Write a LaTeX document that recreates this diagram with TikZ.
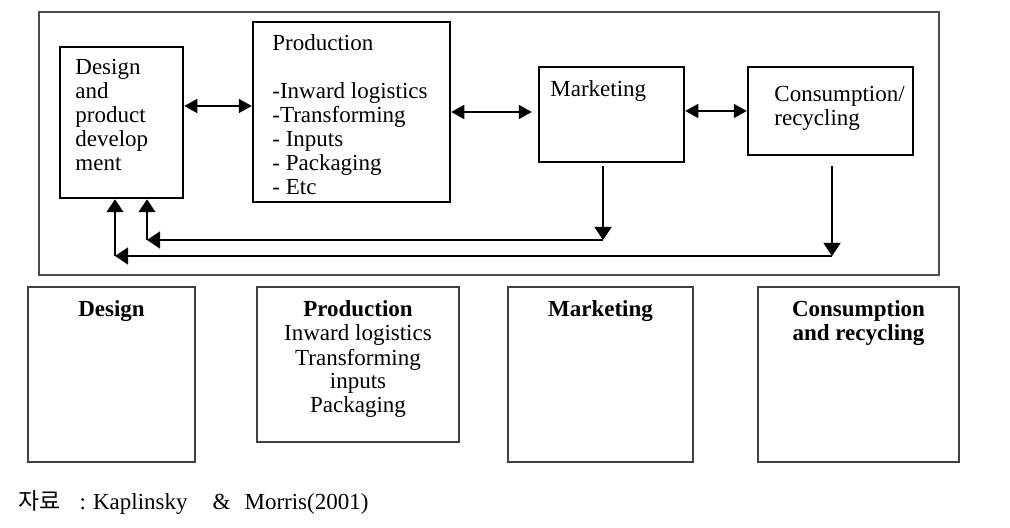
\documentclass[tikz,border=0pt]{standalone}
\usepackage{fontspec}
\setmainfont{Liberation Serif}
\newfontfamily\cjk{Noto Sans CJK KR}
\usetikzlibrary{arrows.meta}

\tikzstyle{box} = [draw,line width=1.25pt,inner sep=0pt]
\tikzstyle{frame} = [draw=black!70,line width=0.75pt,inner sep=0pt]
\tikzstyle{stage} = [draw=black!75,line width=0.75pt,inner sep=0pt,minimum height=87.5pt]
\tikzstyle{txt} = [inner sep=0pt,align=left,anchor=base west]
\tikzstyle{head} = [inner sep=0pt,align=center,anchor=base]
\tikzstyle{line} = [draw,line width=0.75pt,-{Triangle[length=6.5pt,width=8.5pt]}]
\tikzstyle{dline} = [draw,line width=0.75pt,{Triangle[length=6.5pt,width=7pt]}-{Triangle[length=6.5pt,width=7pt]}]

\begin{document}
\begin{tikzpicture}[x=0.5pt,y=-0.5pt,font=\fontsize{11.5}{12}\selectfont]
\useasboundingbox (0,0) rectangle (1010,528);
\node[frame,minimum width=450pt,minimum height=131.5pt] (frame) at (489,143.5) {};
% chain inside the frame (text nodes sit on the baseline of their last line)
\node[box,minimum width=61.5pt,minimum height=75.5pt] (design) at (121.5,122.5) {};
\node[box,minimum width=98.5pt,minimum height=90pt] (prod) at (351.5,112) {};
\node[box,minimum width=72.5pt,minimum height=47.5pt] (mkt) at (611.5,114.5) {};
\node[box,minimum width=82.5pt,minimum height=44pt] (cons) at (830.5,111) {};
\node[txt] (designtxt) at (75,171) {Design\\and\\product\\develop\\ment};
\node[txt] (prodtxt) at (272,195) {Production\\[12pt]-Inward logistics\\-Transforming\\- Inputs\\- Packaging\\- Etc};
\node[txt] (mkttxt) at (550,97) {Marketing};
\node[txt] (constxt) at (774,126) {Consumption/\\recycling};
\draw[dline] (design.east |- 0,106) -- (prod.west |- 0,106);
\draw[dline] (prod.east |- 0,112) -- ([xshift=-3pt]mkt.west |- 0,112);
\draw[dline] (mkt.east |- 0,111) -- (cons.west |- 0,111);
% feedback loops
\coordinate (mktdrop) at (603,240);
\coordinate (consdrop) at (832,256);
\coordinate (inner) at (147,240);
\coordinate (outer) at (115,256);
\draw[line,shorten <=1.5pt] (mkt.south -| mktdrop) -- (mktdrop);
\draw[line] (mktdrop) -- (inner);
\draw[line] (inner) -- (design.south -| inner);
\draw[line,shorten <=5pt] (cons.south -| consdrop) -- (consdrop);
\draw[line] (consdrop) -- (outer);
\draw[line] (outer) -- (design.south -| outer);
% stages below
\node[stage,minimum width=83.5pt] (sdesign) at (111.5,374.5) {};
\node[stage,minimum width=101pt,minimum height=77.5pt] (sprod) at (358,364.5) {};
\node[stage,minimum width=92.5pt] (smkt) at (600.5,374.5) {};
\node[stage,minimum width=100.5pt] (scons) at (858.5,374.5) {};
\node[head] (sdesigntxt) at (111.5,317) {\textbf{Design}};
\node[head] (sprodtxt) at (358,413) {\textbf{Production}\\Inward logistics\\Transforming\\inputs\\Packaging};
\node[head] (smkttxt) at (600.5,317) {\textbf{Marketing}};
\node[head] (sconstxt) at (858.5,341) {\textbf{Consumption}\\\textbf{and recycling}};
\node[anchor=base west,inner sep=0pt] (source) at (18,509) {{\cjk 자료}\hspace{9.5pt}:\hspace{3.5pt}Kaplinsky\hspace{12.5pt}\&\hspace{7pt}Morris(2001)};
\end{tikzpicture}
\end{document}
